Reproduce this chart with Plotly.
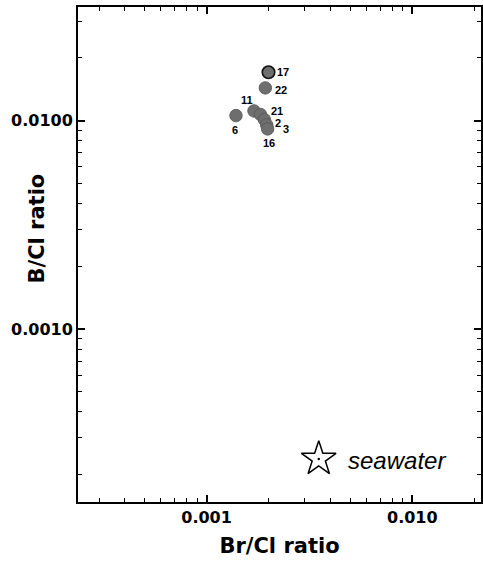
import numpy as np
import plotly.graph_objects as go

# Sample data (Br/Cl and B/Cl ratios)
sample_ids = ["17", "22", "11", "21", "2", "3", "16", "6"]
br_cl = [0.00200, 0.00193, 0.00170, 0.00183, 0.00191, 0.00196, 0.00198, 0.00139]
b_cl = [0.01706, 0.01435, 0.01113, 0.01069, 0.01011, 0.00954, 0.00912, 0.01057]

seawater_br_cl = [0.00351]
seawater_b_cl = [0.000238]

x_major = [0.001, 0.01]
x_major_text = ["0.001", "0.010"]
y_major = [0.001, 0.01]
y_major_text = ["0.0010", "0.0100"]
x_minor = [3e-4, 4e-4, 5e-4, 6e-4, 7e-4, 8e-4, 9e-4,
           2e-3, 3e-3, 4e-3, 5e-3, 6e-3, 7e-3, 8e-3, 9e-3, 2e-2]
y_minor = [2e-4, 3e-4, 4e-4, 5e-4, 6e-4, 7e-4, 8e-4, 9e-4,
           2e-3, 3e-3, 4e-3, 5e-3, 6e-3, 7e-3, 8e-3, 9e-3, 2e-2, 3e-2]

# label offsets (pixels) relative to each point
label_dx = [14, 16, -7, 16, 14, 19, 1, -1]
label_dy = [0, -2, 11, 4, -3, -4, -14, -14]

outline = ["#111111"] + ["#555555"] * (len(sample_ids) - 1)
outline_w = [1.6] + [0.8] * (len(sample_ids) - 1)

fig = go.Figure()
fig.add_trace(go.Scatter(
    x=br_cl, y=b_cl, mode="markers",
    marker=dict(size=12.5, color="#6e6e6e", line=dict(color=outline, width=outline_w)),
    showlegend=False, hoverinfo="skip"))

fig.add_trace(go.Scatter(
    x=seawater_br_cl, y=seawater_b_cl, mode="markers",
    marker=dict(symbol="star-open", size=26, color="black", line=dict(width=1.5, color="black")),
    showlegend=False, hoverinfo="skip"))
fig.add_trace(go.Scatter(
    x=seawater_br_cl, y=seawater_b_cl, mode="markers",
    marker=dict(symbol="circle", size=2.5, color="black"),
    showlegend=False, hoverinfo="skip"))

for sid, xv, yv, dx, dy in zip(sample_ids, br_cl, b_cl, label_dx, label_dy):
    fig.add_annotation(x=np.log10(xv), y=np.log10(yv), xref="x", yref="y",
                       text="<b>" + sid + "</b>", showarrow=False,
                       xshift=dx, yshift=dy,
                       font=dict(family="Liberation Sans", size=11, color="black"))

fig.add_annotation(x=np.log10(seawater_br_cl[0]), y=np.log10(seawater_b_cl[0]),
                   xref="x", yref="y",
                   text="<i>seawater</i>", showarrow=False, xanchor="left",
                   xshift=27, yshift=-2,
                   font=dict(family="Liberation Sans", size=24, color="black"))

fig.add_annotation(x=0, y=0.5515, xref="paper", yref="paper", text="<b>B/Cl ratio</b>",
                   textangle=-90, showarrow=False, xanchor="center", yanchor="middle",
                   xshift=-40.5,
                   font=dict(family="DejaVu Sans", size=21, color="black"))

axis_common = dict(
    type="log", showgrid=False, zeroline=False, showline=True, linecolor="black",
    linewidth=2, mirror="ticks", ticks="inside", ticklen=7, tickwidth=1.5,
    tickcolor="black", tickmode="array", automargin=False,
    tickfont=dict(family="DejaVu Sans", size=16, color="black", weight="bold"),
)

fig.update_xaxes(**axis_common, range=[-3.625, -1.666],
                 tickvals=x_major, ticktext=x_major_text,
                 minor=dict(tickmode="array", tickvals=x_minor, ticks="inside",
                            ticklen=4, tickwidth=1, tickcolor="black"),
                 title=dict(text="<b>Br/Cl ratio</b>", standoff=12,
                            font=dict(family="DejaVu Sans", size=21, color="black")))
fig.update_yaxes(**axis_common, range=[-3.83, -1.455],
                 tickvals=y_major, ticktext=y_major_text,
                 minor=dict(tickmode="array", tickvals=y_minor, ticks="inside",
                            ticklen=4, tickwidth=1, tickcolor="black"))

fig.update_layout(
    width=483, height=568, autosize=False,
    margin=dict(l=78, r=2, t=7, b=66),
    paper_bgcolor="white", plot_bgcolor="white",
)

post = ("document.body.style.margin='0px';document.body.style.overflow='hidden';"
        "var gd=document.getElementById('{plot_id}');"
        "Plotly.relayout(gd,{width:483,height:568});")
fig.write_html("out.html", config={"responsive": False, "displayModeBar": False},
               post_script=post)
